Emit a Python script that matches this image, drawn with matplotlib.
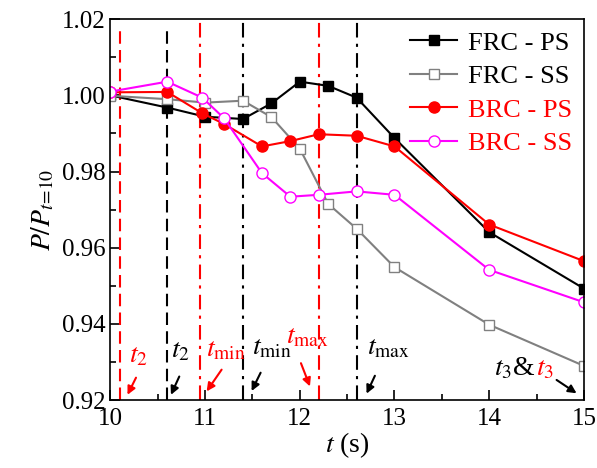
import numpy as np
import matplotlib
matplotlib.use("Agg")
import matplotlib.pyplot as plt

plt.rcParams['font.family'] = ['Liberation Serif', 'DejaVu Serif']
plt.rcParams['mathtext.fontset'] = 'stix'

# data
t_frc = [10.0, 10.6, 11.0, 11.4, 11.7, 12.0, 12.3, 12.6, 13.0, 14.0, 15.0]
frc_ps = [1.0000, 0.9968, 0.9944, 0.9938, 0.9979, 1.0036, 1.0025, 0.9994, 0.9888, 0.9641, 0.9493]
frc_ss = [0.9999, 0.9990, 0.9981, 0.9986, 0.9943, 0.9860, 0.9715, 0.9650, 0.9549, 0.9398, 0.9290]

t_brc = [10.0, 10.6, 10.97, 11.2, 11.6, 11.9, 12.2, 12.6, 13.0, 14.0, 15.0]
brc_ps = [1.0008, 1.0009, 0.9953, 0.9925, 0.9866, 0.9880, 0.9898, 0.9894, 0.9866, 0.9661, 0.9565]
brc_ss = [1.0010, 1.0036, 0.9994, 0.9940, 0.9796, 0.9734, 0.9739, 0.9748, 0.9739, 0.9542, 0.9457]

# characteristic times (vertical marker lines)
t2_brc, t2_frc = 10.1, 10.6
tmin_brc, tmin_frc = 10.95, 11.4
tmax_brc, tmax_frc = 12.2, 12.6

fig = plt.figure(figsize=(5.97, 4.68), dpi=100)
ax = fig.add_axes([0.185, 0.145, 0.793, 0.814])

# vertical lines
ax.vlines([t2_brc], 0.92, 1.0185, colors='red', linestyles=(0, (6, 3)), lw=1.5)
ax.vlines([t2_frc], 0.92, 1.0185, colors='black', linestyles=(0, (6, 3)), lw=1.5)
ax.vlines([tmin_brc, tmax_brc], 0.92, 1.0195, colors='red', linestyles=(0, (7, 3, 1.5, 3)), lw=1.5)
ax.vlines([tmin_frc, tmax_frc], 0.92, 1.0195, colors='black', linestyles=(0, (7, 3, 1.5, 3)), lw=1.5)

ax.plot(t_frc, frc_ps, '-s', color='black', lw=1.5, ms=7, label='FRC - PS')
ax.plot(t_frc, frc_ss, '-s', color='gray', mfc='white', mec='gray', lw=1.5, ms=7, label='FRC - SS')
ax.plot(t_brc, brc_ps, '-o', color='red', lw=1.5, ms=8, label='BRC - PS')
ax.plot(t_brc, brc_ss, '-o', color='magenta', mfc='white', mec='magenta', lw=1.5, ms=8, label='BRC - SS')

ax.set_xlim(10, 15)
ax.set_ylim(0.92, 1.02)
ax.set_xticks([10, 11, 12, 13, 14, 15])
ax.set_xticks(np.arange(10.5, 15, 1), minor=True)
ax.set_yticks([0.92, 0.94, 0.96, 0.98, 1.00, 1.02])
ax.set_yticks(np.arange(0.93, 1.02, 0.02), minor=True)
ax.yaxis.set_major_formatter(matplotlib.ticker.FormatStrFormatter('%.2f'))
ax.tick_params(which='both', direction='in', labelsize=18, top=False, right=False)
ax.tick_params(axis='x', which='major', pad=6)
ax.tick_params(which='major', length=7, width=1.2)
ax.tick_params(which='minor', length=4, width=1.2)
for s in ax.spines.values():
    s.set_linewidth(1.2)

ax.set_xlabel('$t$ (s)', fontsize=20, labelpad=0)
ax.set_ylabel('$P/P_{t\\!=\\!10}$', fontsize=20, labelpad=4)

leg = ax.legend(loc='upper right', frameon=False, fontsize=19, handlelength=1.8,
                handletextpad=0.4, labelspacing=0.38, borderaxespad=0.05)
for txt, c in zip(leg.get_texts(), ['black', 'black', 'red', 'red']):
    txt.set_color(c)

# annotations
ap = dict(arrowstyle='-|>', lw=1.5, mutation_scale=12, shrinkA=0, shrinkB=0)
fs = 20
ax.text(10.2, 0.9298, '$t_2$', color='red', fontsize=fs)
ax.annotate('', xy=(10.18, 0.9214), xytext=(10.27, 0.9259), arrowprops=dict(ap, color='red'))
ax.text(10.64, 0.9311, '$t_2$', color='black', fontsize=fs)
ax.annotate('', xy=(10.639, 0.9214), xytext=(10.727, 0.9262), arrowprops=dict(ap, color='black'))
ax.text(11.01, 0.9314, '$t_{\\rm min}$', color='red', fontsize=fs)
ax.annotate('', xy=(11.016, 0.9223), xytext=(11.174, 0.9280), arrowprops=dict(ap, color='red'))
ax.text(11.49, 0.9319, '$t_{\\rm min}$', color='black', fontsize=fs)
ax.annotate('', xy=(11.491, 0.9224), xytext=(11.586, 0.9272), arrowprops=dict(ap, color='black'))
ax.text(11.85, 0.9348, '$t_{\\rm max}$', color='red', fontsize=fs)
ax.annotate('', xy=(12.107, 0.9236), xytext=(12.012, 0.9297), arrowprops=dict(ap, color='red'))
ax.text(12.71, 0.9319, '$t_{\\rm max}$', color='black', fontsize=fs)
ax.annotate('', xy=(12.705, 0.9217), xytext=(12.793, 0.9264), arrowprops=dict(ap, color='black'))
ax.text(14.05, 0.9265, '$t_3$&', color='black', fontsize=fs)
ax.text(14.49, 0.9265, '$t_3$', color='red', fontsize=fs)
ax.annotate('', xy=(14.923, 0.9218), xytext=(14.712, 0.9253), arrowprops=dict(ap, color='black'))

fig.savefig('out.png', dpi=100)
